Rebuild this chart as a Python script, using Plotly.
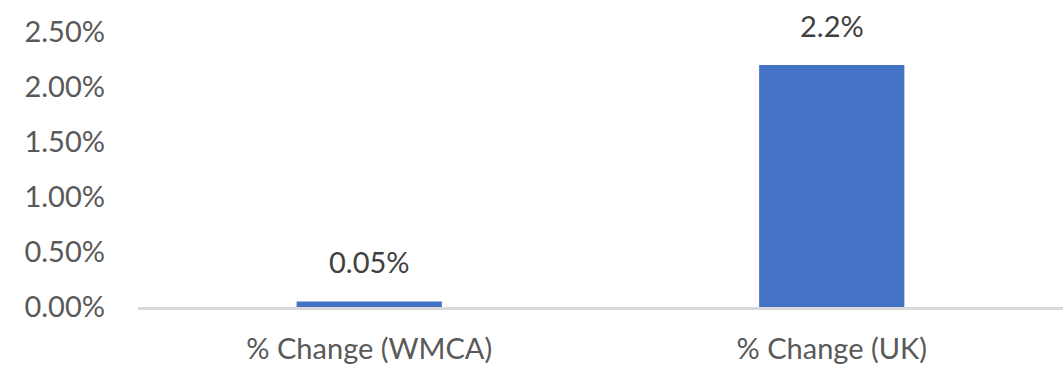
import plotly.graph_objects as go

# Percentage change, WMCA vs UK
categories = ["% Change (WMCA)", "% Change (UK)"]
values = [0.0005, 0.022]
value_labels = ["0.05%", "2.2%"]

y_ticks = [0, 0.005, 0.01, 0.015, 0.02, 0.025]

BAR_COLOR = "#4472C4"
FONT = "Lato, Open Sans, sans-serif"
FS = 29

fig = go.Figure(
    go.Bar(
        x=categories,
        y=values,
        marker=dict(color=BAR_COLOR, line=dict(width=0)),
        hoverinfo="skip",
    )
)

# value labels above each bar
for cat, val, lab in zip(categories, values, value_labels):
    fig.add_annotation(
        x=cat, y=val, text=lab, showarrow=False,
        yanchor="middle", yshift=40,
        font=dict(family=FONT, size=FS, color="#404040"),
    )

fig.update_layout(
    width=1064, height=367,
    margin=dict(l=138, r=1, t=32, b=60),
    paper_bgcolor="white", plot_bgcolor="white",
    bargap=0.686,
    showlegend=False,
    font=dict(family=FONT, size=FS, color="#595959"),
)
fig.update_xaxes(
    showline=True, linecolor="#D9D9D9", linewidth=3,
    showgrid=False, ticks="", ticklabelstandoff=14,
    tickfont=dict(family=FONT, size=FS, color="#595959"),
)
fig.update_yaxes(
    range=[0, 0.025], tickvals=y_ticks, tickformat=".2%",
    showgrid=False, zeroline=False, showline=False,
    ticks="", ticklabelstandoff=32,
    tickfont=dict(family=FONT, size=FS, color="#595959"),
)

fig.write_html("out.html")
